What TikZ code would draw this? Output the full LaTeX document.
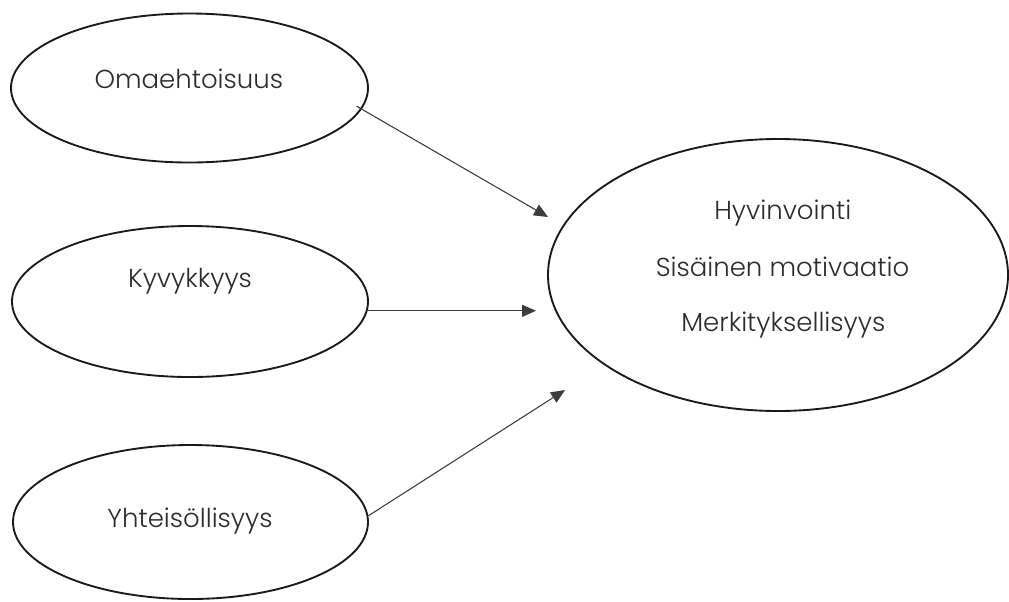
\documentclass[tikz,border=0pt]{standalone}
\usepackage{fontspec}
\setmainfont{Poppins}[UprightFont=* Light]
\usetikzlibrary{arrows.meta,shapes.geometric}
\definecolor{ink}{HTML}{1A1A1A}
\definecolor{txt}{HTML}{2C2C2C}
\definecolor{arr}{HTML}{3C3C3C}
\begin{document}
\begin{tikzpicture}[x=0.75pt,y=-0.75pt,
  bubble/.style={draw=ink,line width=1.4pt,ellipse,inner sep=0pt,fill=white},
  word/.style={anchor=base,text=txt,font=\fontsize{19.5}{23}\selectfont,inner sep=0pt},
  bigword/.style={word,font=\fontsize{19.5}{23}\selectfont},
  link/.style={draw=arr,line width=0.8pt,-{Triangle[length=10.5pt,width=9pt]}}]
\useasboundingbox[fill=white] (0,0) rectangle (1009,601);

% source ellipses
\node[bubble,minimum width=267.75pt,minimum height=111.75pt] (oma) at (189.5,88) {};
\node[bubble,minimum width=267pt,minimum height=113.25pt] (kyv) at (190,301.5) {};
\node[bubble,minimum width=266.25pt,minimum height=115.5pt] (yht) at (190.5,522) {};
% outcome ellipse
\node[bubble,minimum width=345pt,minimum height=204pt] (out) at (778,275) {};

% labels
\node[word] (omaT) at (188.8,88) {Omaehtoisuus};
\node[word] (kyvT) at (190,287) {Kyvykkyys};
\node[word] (yhtT) at (190,527) {Yhteisöllisyys};
\node[bigword] (hyv) at (782.8,219) {Hyvinvointi};
\node[bigword] (sis) at (782.5,276) {Sisäinen motivaatio};
\node[bigword] (mer) at (783.3,331) {Merkityksellisyys};

% arrow tips in front of the outcome ellipse
\coordinate (t1) at (548,217);
\coordinate (t2) at (536,313);
\coordinate (t3) at (565,390);

\draw[link,shorten <=-4.5pt] (oma.-7.7) -- (t1);
\draw[link] (kyv.-3.74) -- (kyv.-3.74 -| t2);
\draw[link] (yht.2.26) -- (t3);
\end{tikzpicture}
\end{document}
